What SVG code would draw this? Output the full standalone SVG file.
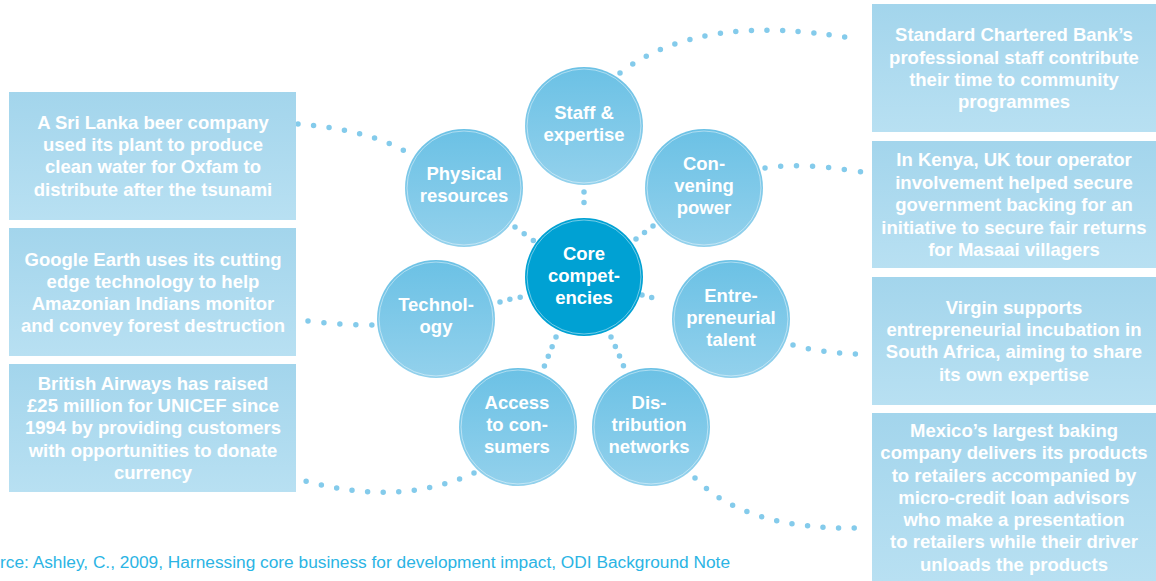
<svg xmlns="http://www.w3.org/2000/svg" width="1156" height="581" viewBox="0 0 1156 581">
<defs>
<linearGradient id="gBox" x1="0" y1="0" x2="0" y2="1"><stop offset="0" stop-color="#a3d5ec"/><stop offset="1" stop-color="#b8e0f2"/></linearGradient>
<linearGradient id="gCirc" x1="0" y1="0" x2="0" y2="1"><stop offset="0" stop-color="#6bc1e5"/><stop offset="1" stop-color="#93d1ec"/></linearGradient>
<style>
.box{fill:url(#gBox)}
.circ{fill:url(#gCirc)}
.core{fill:#00a1d3}
.ring{fill:none;stroke:#ffffff;stroke-opacity:0.45;stroke-width:1}
.t{font-family:"Liberation Sans",Arial,sans-serif;font-weight:bold;font-size:18.5px;fill:#ffffff;text-anchor:middle}
.dot{fill:none;stroke:#84cbeb;stroke-width:5.5;stroke-linecap:round}
.src{font-family:"Liberation Sans",Arial,sans-serif;font-size:16px;fill:#2bb4e4}
</style>
</defs>
<rect width="1156" height="581" fill="#ffffff"/>

<g id="connectors">
<path class="dot" stroke-dasharray="0 15.6" d="M620,73 Q700,12 850,38"/>
<path class="dot" stroke-dasharray="0 15.6" d="M298,124 Q370,130 408,153"/>
<path class="dot" stroke-dasharray="0 11.4" d="M515,227 L534,241"/>
<path class="dot" stroke-dasharray="0 10.5" d="M584,192 L584,213"/>
<path class="dot" stroke-dasharray="0 10.7" d="M653,226 L636,239"/>
<path class="dot" stroke-dasharray="0 16" d="M765,168 Q800,162 862,172"/>
<path class="dot" stroke-dasharray="0 10.4" d="M500,302 Q510,299 521,297"/>
<path class="dot" stroke-dasharray="0 16" d="M308,321 Q340,325 372,325"/>
<path class="dot" stroke-dasharray="0 10" d="M642,295 L661,300"/>
<path class="dot" stroke-dasharray="0 15.8" d="M793,345 Q830,355 871,354"/>
<path class="dot" stroke-dasharray="0 10.4" d="M556,337 Q550,352 544,367"/>
<path class="dot" stroke-dasharray="0 10.4" d="M611,337 Q618,352 624,367"/>
<path class="dot" stroke-dasharray="0 15.6" d="M474,473 Q400,507 305,481"/>
<path class="dot" stroke-dasharray="0 15.6" d="M695,478 Q745,530 859,528"/>
</g>

<g id="box-srilanka">
<rect class="box" x="9" y="92" width="287" height="128"/>
<text class="t"><tspan x="153" y="129">A Sri Lanka beer company</tspan><tspan x="153" y="151">used its plant to produce</tspan><tspan x="153" y="173">clean water for Oxfam to</tspan><tspan x="153" y="196">distribute after the tsunami</tspan></text>
</g>
<g id="box-google">
<rect class="box" x="9" y="228" width="287" height="128"/>
<text class="t"><tspan x="153" y="266">Google Earth uses its cutting</tspan><tspan x="153" y="288">edge technology to help</tspan><tspan x="153" y="310">Amazonian Indians monitor</tspan><tspan x="153" y="332">and convey forest destruction</tspan></text>
</g>
<g id="box-ba">
<rect class="box" x="9" y="364" width="287" height="128"/>
<text class="t"><tspan x="153" y="390">British Airways has raised</tspan><tspan x="153" y="412">£25 million for UNICEF since</tspan><tspan x="153" y="434">1994 by providing customers</tspan><tspan x="153" y="457">with opportunities to donate</tspan><tspan x="153" y="479">currency</tspan></text>
</g>

<g id="box-standard">
<rect class="box" x="872" y="4" width="284" height="128"/>
<text class="t"><tspan x="1014" y="41">Standard Chartered Bank’s</tspan><tspan x="1014" y="64">professional staff contribute</tspan><tspan x="1014" y="86">their time to community</tspan><tspan x="1014" y="108">programmes</tspan></text>
</g>
<g id="box-kenya">
<rect class="box" x="872" y="141" width="284" height="127"/>
<text class="t"><tspan x="1014" y="166">In Kenya, UK tour operator</tspan><tspan x="1014" y="189">involvement helped secure</tspan><tspan x="1014" y="211">government backing for an</tspan><tspan x="1014" y="234">initiative to secure fair returns</tspan><tspan x="1014" y="256">for Masaai villagers</tspan></text>
</g>
<g id="box-virgin">
<rect class="box" x="872" y="277" width="284" height="128"/>
<text class="t"><tspan x="1014" y="314">Virgin supports</tspan><tspan x="1014" y="336">entrepreneurial incubation in</tspan><tspan x="1014" y="358">South Africa, aiming to share</tspan><tspan x="1014" y="381">its own expertise</tspan></text>
</g>
<g id="box-mexico">
<rect class="box" x="872" y="413" width="284" height="168"/>
<text class="t"><tspan x="1014" y="437">Mexico’s largest baking</tspan><tspan x="1014" y="459">company delivers its products</tspan><tspan x="1014" y="482">to retailers accompanied by</tspan><tspan x="1014" y="504">micro-credit loan advisors</tspan><tspan x="1014" y="526">who make a presentation</tspan><tspan x="1014" y="548">to retailers while their driver</tspan><tspan x="1014" y="571">unloads the products</tspan></text>
</g>

<g id="node-staff">
<circle class="circ" cx="584" cy="126" r="59"/><circle class="ring" cx="584" cy="126" r="57"/>
<text class="t"><tspan x="584" y="119">Staff &amp;</tspan><tspan x="584" y="141">expertise</tspan></text>
</g>
<g id="node-physical">
<circle class="circ" cx="464" cy="188" r="59"/><circle class="ring" cx="464" cy="188" r="57"/>
<text class="t"><tspan x="464" y="180">Physical</tspan><tspan x="464" y="202">resources</tspan></text>
</g>
<g id="node-convening">
<circle class="circ" cx="704" cy="188" r="59"/><circle class="ring" cx="704" cy="188" r="57"/>
<text class="t"><tspan x="704" y="170">Con-</tspan><tspan x="704" y="192">vening</tspan><tspan x="704" y="214">power</tspan></text>
</g>
<g id="node-core">
<circle class="core" cx="584" cy="277" r="59"/><circle class="ring" cx="584" cy="277" r="57"/>
<text class="t"><tspan x="584" y="260">Core</tspan><tspan x="584" y="282">compet-</tspan><tspan x="584" y="304">encies</tspan></text>
</g>
<g id="node-technology">
<circle class="circ" cx="436" cy="319" r="59"/><circle class="ring" cx="436" cy="319" r="57"/>
<text class="t"><tspan x="436" y="311">Technol-</tspan><tspan x="436" y="333">ogy</tspan></text>
</g>
<g id="node-entre">
<circle class="circ" cx="731" cy="319" r="59"/><circle class="ring" cx="731" cy="319" r="57"/>
<text class="t"><tspan x="731" y="302">Entre-</tspan><tspan x="731" y="324">preneurial</tspan><tspan x="731" y="346">talent</tspan></text>
</g>
<g id="node-access">
<circle class="circ" cx="518" cy="427" r="59"/><circle class="ring" cx="518" cy="427" r="57"/>
<text class="t"><tspan x="517" y="409">Access</tspan><tspan x="517" y="431">to con-</tspan><tspan x="517" y="453">sumers</tspan></text>
</g>
<g id="node-distribution">
<circle class="circ" cx="651" cy="427" r="59"/><circle class="ring" cx="651" cy="427" r="57"/>
<text class="t"><tspan x="649" y="409">Dis-</tspan><tspan x="649" y="431">tribution</tspan><tspan x="649" y="453">networks</tspan></text>
</g>

<text class="src" x="0" y="568" textLength="730" lengthAdjust="spacingAndGlyphs">rce: Ashley, C., 2009, Harnessing core business for development impact, ODI Background Note</text>
</svg>
